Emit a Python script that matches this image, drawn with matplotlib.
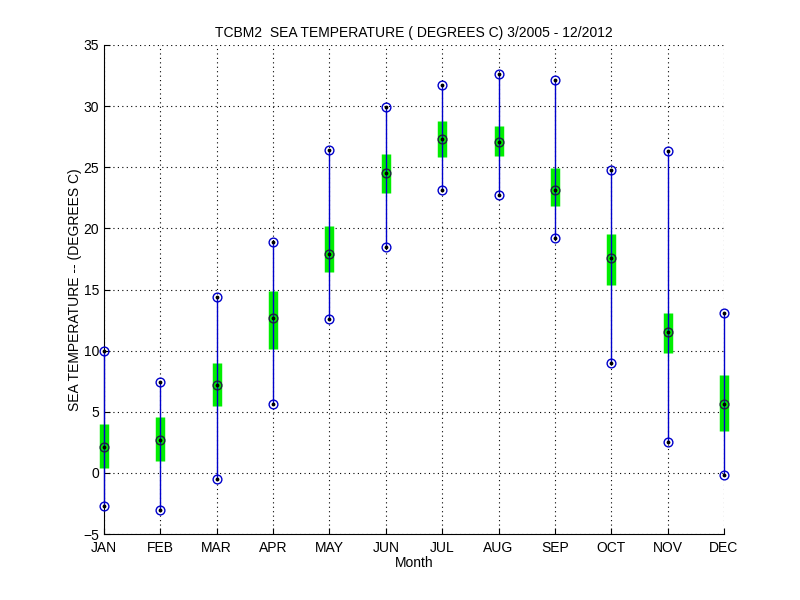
import matplotlib
matplotlib.use("Agg")
from matplotlib import pyplot as plt

# valores
meses = ['JAN', 'FEB', 'MAR', 'APR', 'MAY', 'JUN', 'JUL', 'AUG', 'SEP', 'OCT', 'NOV', 'DEC']
t_max = [10.0, 7.4, 14.4, 18.9, 26.4, 29.9, 31.7, 32.6, 32.1, 24.8, 26.3, 13.1]
t_min = [-2.7, -3.0, -0.5, 5.6, 12.6, 18.5, 23.1, 22.7, 19.2, 9.0, 2.5, -0.2]
t_media = [2.1, 2.7, 7.2, 12.7, 17.9, 24.5, 27.3, 27.1, 23.1, 17.6, 11.5, 5.6]
caixa_sup = [4.0, 4.6, 9.0, 14.9, 20.2, 26.1, 28.8, 28.4, 24.9, 19.5, 13.1, 8.0]
caixa_inf = [0.4, 1.0, 5.5, 10.1, 16.4, 22.9, 25.8, 25.9, 21.8, 15.4, 9.8, 3.4]

plt.rcParams['font.family'] = ['Liberation Sans', 'DejaVu Sans']
plt.rcParams['font.size'] = 10

fig = plt.figure(figsize=(8, 6), dpi=100)
ax = fig.add_axes([0.13, 0.11, 0.775, 0.815])

x = list(range(1, len(meses) + 1))

# caixas verdes (desvio) como linhas grossas
ax.vlines(x, caixa_inf, caixa_sup, colors='#00ee00', linewidth=6.8, zorder=2, clip_on=False)
# linha min-max
ax.vlines(x, t_min, t_max, colors='#0000cc', linewidth=1.0, zorder=3, clip_on=False)

for serie, cor in [(t_max, '#0000cc'), (t_min, '#0000cc'), (t_media, '#202040')]:
    ax.plot(x, serie, linestyle='none', marker='o', markersize=6.3, markerfacecolor='none',
            markeredgecolor=cor, markeredgewidth=1.0, zorder=4, clip_on=False)
    ax.plot(x, serie, linestyle='none', marker='.', markersize=3.5, color='black', zorder=5, clip_on=False)

ax.set_xlim(1, 12)
ax.set_ylim(-5, 35)
ax.set_xticks(x)
ax.set_xticklabels(meses)
ax.set_yticks(range(-5, 36, 5))
ax.tick_params(direction='in', length=4, top=False, right=False)
ax.tick_params(axis='x', pad=5)
ax.grid(True, linestyle=(0, (1, 3)), color='black', linewidth=0.8)
for s in ['top', 'right']:
    ax.spines[s].set_visible(False)

ax.set_title('TCBM2  SEA TEMPERATURE ( DEGREES C) 3/2005 - 12/2012', fontsize=10)
ax.set_xlabel('Month', fontsize=10, labelpad=1)
ax.set_ylabel('SEA TEMPERATURE -- (DEGREES C)', fontsize=10, labelpad=1)

fig.savefig('out.png', dpi=100)
